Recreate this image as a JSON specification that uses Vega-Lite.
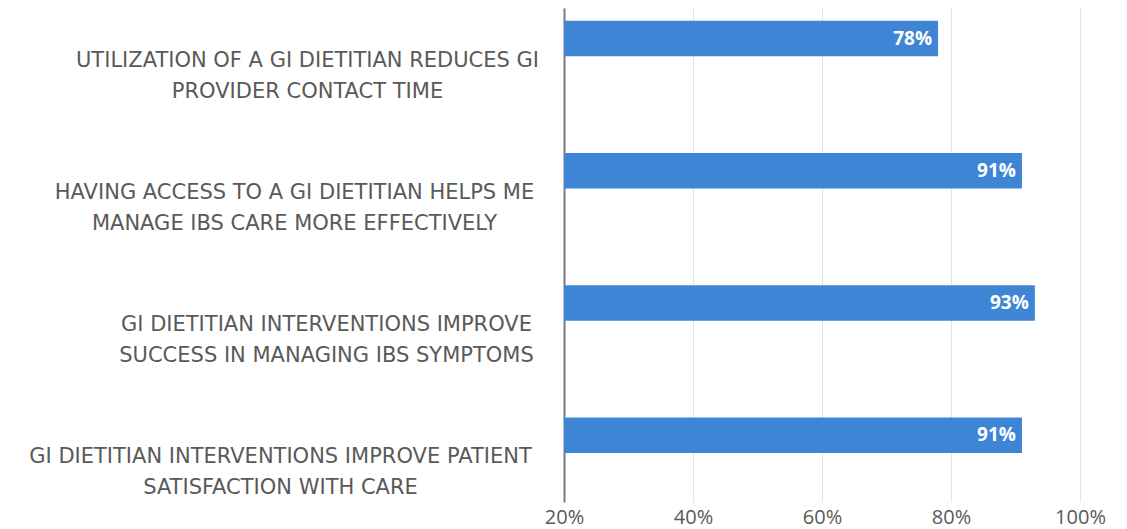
{
  "$schema": "https://vega.github.io/schema/vega-lite/v6.json",
  "autosize": {"type": "none"},
  "width": 516,
  "height": 494,
  "padding": {"left": 564, "top": 8, "right": 47, "bottom": 27},
  "background": "white",
  "config": {"view": {"stroke": null}, "font": "DejaVu Sans"},
  "data": {"values": [
    {"statement": "UTILIZATION OF A GI DIETITIAN REDUCES GI|PROVIDER CONTACT TIME", "pct": 0.78},
    {"statement": "HAVING ACCESS TO A GI DIETITIAN HELPS ME|MANAGE IBS CARE MORE EFFECTIVELY", "pct": 0.91},
    {"statement": "GI DIETITIAN INTERVENTIONS IMPROVE|SUCCESS IN MANAGING IBS SYMPTOMS", "pct": 0.93},
    {"statement": "GI DIETITIAN INTERVENTIONS IMPROVE PATIENT|SATISFACTION WITH CARE", "pct": 0.91}
  ]},
  "encoding": {
    "y": {
      "field": "statement", "type": "nominal", "sort": null,
      "scale": {"paddingInner": 0.731, "paddingOuter": 0.2336, "align": 0.206},
      "axis": {
        "title": null, "ticks": false, "grid": false,
        "domain": true, "domainColor": "#7a7a7a", "domainWidth": 2,
        "labelExpr": "split(datum.label, '|')",
        "labelFont": "DejaVu Sans", "labelFontSize": 21, "labelColor": "#595959",
        "labelAlign": "center", "labelBaseline": "middle", "labelLineHeight": 31,
        "labelOffset": 22, "labelLimit": 0, "labelOverlap": false, "labelBound": false,
        "labelPadding": {"condition": [
          {"test": "indexof(datum.value, 'UTILIZATION') === 0", "value": 257},
          {"test": "indexof(datum.value, 'HAVING') === 0", "value": 270},
          {"test": "indexof(datum.value, 'SUCCESS') > 0", "value": 238}
        ], "value": 284}
      }
    }
  },
  "layer": [
    {
      "mark": {"type": "bar", "color": "#3e85d6"},
      "encoding": {
        "x": {"field": "pct", "type": "quantitative",
          "scale": {"domain": [0.2, 1], "zero": false, "nice": false},
          "axis": {"title": null, "values": [0.2, 0.4, 0.6, 0.8, 1.0], "format": ".0%",
            "domain": false, "ticks": false, "grid": true, "gridColor": "#e3e3e3", "gridWidth": 1,
            "labelFont": "Open Sans", "labelFontSize": 20, "labelColor": "#595959", "labelPadding": 5,
            "labelFlush": false}},
        "x2": {"datum": 0.2}
      }
    },
    {
      "mark": {"type": "text", "align": "right", "baseline": "middle", "dx": -6, "color": "white", "fontWeight": "bold", "fontSize": 19, "font": "Open Sans"},
      "encoding": {
        "x": {"field": "pct", "type": "quantitative"},
        "text": {"field": "pct", "type": "quantitative", "format": ".0%"}
      }
    }
  ]
}
